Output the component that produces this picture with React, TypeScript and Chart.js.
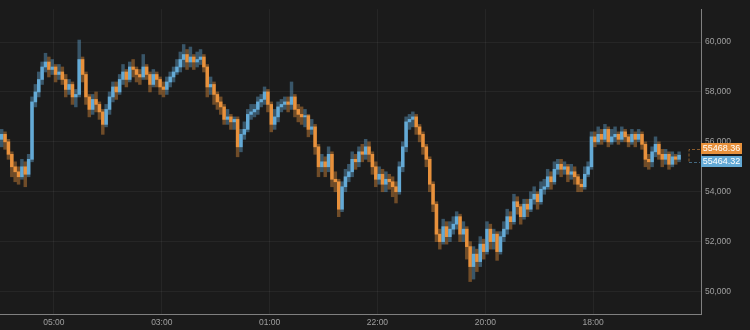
import React, { useEffect, useRef } from 'react';
import { Chart, registerables } from 'chart.js';
Chart.register(...registerables);

const OPEN = [56100,56300,56000,55500,55000,54800,54600,55000,54700,55300,
57600,58000,58500,59000,59200,58900,59000,58700,58800,58500,
58100,58300,57800,57900,59300,58700,57800,57300,57700,57500,
57200,56700,57300,57800,58200,58000,58500,58800,58500,59000,
58900,58700,58600,59000,58700,58300,58700,58500,58200,58100,
58400,58600,58800,59000,59300,59500,59200,59400,59200,59300,
59400,59000,58200,58300,57900,57600,57400,56900,57000,56800,
56900,55800,56300,56500,57100,57200,57300,57600,57700,58000,
57500,56700,57000,57400,57500,57600,57500,57800,57300,57100,
57000,57050,56500,56600,55800,55000,55200,55000,55500,54500,
54400,53300,54200,54600,54800,55300,55200,55600,55500,55800,
55500,55000,54500,54700,54300,54500,54400,54200,54000,55000,
55800,56800,56900,57000,56600,56300,55800,55300,54300,53500,
52300,52000,52600,52200,52500,52700,53000,52300,52500,51800,
51000,51500,51200,51900,51600,52500,52000,52300,51600,52200,
52500,53000,52800,53600,53400,53000,53500,53300,53700,53900,
53600,54100,54200,54600,54400,54900,55100,54900,55000,54700,
54800,54600,54300,54200,54700,55000,56200,56000,56300,56100,
56500,56000,56200,56300,56100,56400,56200,56000,56300,56100,
56300,55900,55300,55200,55600,55900,55500,55300,55500,55100,
55400,55300];

const CLOSE = [56300,56000,55500,55000,54800,54600,55000,54700,55300,57600,
58000,58500,59000,59200,58900,59000,58700,58800,58500,58100,
58300,57800,57900,59300,58700,57800,57300,57700,57500,57200,
56700,57300,57800,58200,58000,58500,58800,58500,59000,58900,
58700,58600,59000,58700,58300,58700,58500,58200,58100,58400,
58600,58800,59000,59300,59500,59200,59400,59200,59300,59400,
59000,58200,58300,57900,57600,57400,56900,57000,56800,56900,
55800,56300,56500,57100,57200,57300,57600,57700,58000,57500,
56700,57000,57400,57500,57600,57500,57800,57300,57100,57000,
57050,56500,56600,55800,55000,55200,55000,55500,54500,54400,
53300,54200,54600,54800,55300,55200,55600,55500,55800,55500,
55000,54500,54700,54300,54500,54400,54200,54000,55000,55800,
56800,56900,57000,56600,56300,55800,55300,54300,53500,52300,
52000,52600,52200,52500,52700,53000,52300,52500,51800,51000,
51500,51200,51900,51600,52500,52000,52300,51600,52200,52500,
53000,52800,53600,53400,53000,53500,53300,53700,53900,53600,
54100,54200,54600,54400,54900,55100,54900,55000,54700,54800,
54600,54300,54200,54700,55000,56200,56000,56300,56100,56500,
56000,56200,56300,56100,56400,56200,56000,56300,56100,56300,
55900,55300,55200,55600,55900,55500,55300,55500,55100,55400,
55300,55464];

const HIGH = [56500,56400,56100,55600,55200,55000,55300,55200,55500,57800,
58300,58800,59200,59550,59400,59300,59100,59100,59000,58700,
58500,58400,58100,60080,59400,58800,57900,57900,58000,57600,
57300,57500,58000,58400,58400,58700,59100,58900,59200,59300,
59000,58900,59500,59100,58800,58900,58800,58600,58400,58600,
58800,59000,59300,59600,59900,59700,59800,59500,59600,59700,
59500,59100,58600,58400,58000,57800,57500,57300,57100,57000,
57000,56500,56800,57300,57500,57500,57800,57900,58200,58100,
57600,57300,57600,57700,57800,57800,58400,57900,57500,57400,
57300,57100,56900,56700,55900,55500,55400,55800,55600,54800,
54500,54400,54900,55100,55600,55500,55800,55900,56100,56000,
55600,55200,55000,54900,54800,54700,54600,54400,55200,56000,
57000,57100,57200,57100,56700,56400,55900,55400,54400,53600,
52500,52900,52800,52800,53000,53200,53100,52800,52600,52000,
51800,51700,52200,52100,52800,52700,52500,52400,52400,52800,
53300,53200,53900,53800,53500,53700,53700,54000,54200,54000,
54400,54500,54900,54800,55200,55300,55300,55200,55100,55100,
55000,54700,54500,55000,55200,56400,56400,56600,56500,56700,
56600,56500,56600,56400,56600,56500,56300,56500,56400,56500,
56400,56000,55500,55800,56200,56000,55700,55700,55600,55600,
55500,55600];

const LOW = [55800,55700,55300,54600,54400,54300,54500,54200,54600,55200,
57400,57800,58300,58800,58600,58700,58400,58500,58300,57800,
57900,57500,57400,57800,58400,57500,57000,57100,57200,56900,
56300,56600,57100,57600,57700,57900,58300,58200,58400,58600,
58400,58300,58500,58500,58000,58200,58200,57900,57800,57900,
58200,58400,58700,58800,59000,58900,59000,58900,59000,59100,
58800,57800,57900,57500,57300,57100,56700,56700,56500,56500,
55400,55600,56100,56400,56900,57000,57100,57400,57500,57200,
56400,56500,56800,57200,57300,57200,57300,57000,56800,56700,
56600,56200,56300,55500,54600,54800,54600,54800,54200,54000,
53000,53200,54000,54400,54600,54900,55000,55200,55300,55200,
54700,54200,54300,54000,54000,54100,53800,53550,53900,54800,
55600,56500,56600,56300,56000,55500,55000,54000,53200,52000,
51700,51900,51900,52000,52300,52500,52000,52000,51300,50400,
50500,50800,51000,51300,51500,51700,51700,51250,51500,52000,
52300,52500,52700,53100,52700,52900,53000,53200,53500,53300,
53500,53900,54100,54100,54300,54700,54600,54700,54400,54500,
54300,54000,54000,54100,54600,54900,55800,55900,55900,56000,
55800,55900,56000,55900,56000,56000,55800,55900,55800,56000,
55700,55000,54900,55000,55400,55300,55000,55100,54900,55000,
55100,55200];

const TICK_POS = [15.5, 47.5, 79.5, 111.5, 143.5, 175.5];
const TICK_LABELS = ['05:00', '03:00', '01:00', '22:00', '20:00', '18:00'];
const Y_TICKS = [50000, 52000, 54000, 56000, 58000, 60000];
const ASK_PRICE = 55468.36;
const BID_PRICE = 55464.32;

const BG = '#1b1b1b';
const UP = '#64aad6';
const DOWN = '#e8913c';
const UP_WICK = 'rgba(100,170,214,0.42)';
const DOWN_WICK = 'rgba(232,145,60,0.42)';
const FONT = "'Liberation Sans', Arial, Helvetica, sans-serif";
const FONT_SIZE = 8.5;

export default function App() {
  const ref = useRef<HTMLCanvasElement | null>(null);

  useEffect(() => {
    document.body.style.margin = '0';
    document.body.style.background = BG;
    const canvas = ref.current;
    if (!canvas) return;

    const bodies = OPEN.map((o, i) => ({ x: i, y: [o, CLOSE[i]] }));
    const wicks = OPEN.map((_, i) => ({ x: i, y: [LOW[i], HIGH[i]] }));
    const isUp = OPEN.map((o, i) => CLOSE[i] >= o);

    const bgPlugin = {
      id: 'bg',
      beforeDraw(chart: any) {
        const ctx = chart.ctx;
        ctx.save();
        ctx.fillStyle = BG;
        ctx.fillRect(0, 0, chart.width, chart.height);
        ctx.restore();
      },
    };

    const pricePlugin = {
      id: 'priceTags',
      afterDraw(chart: any) {
        const ctx = chart.ctx;
        const ys = chart.scales.y;
        const area = chart.chartArea;
        const py = ys.getPixelForValue((ASK_PRICE + BID_PRICE) / 2);
        const x0 = area.right;
        const w = 41;
        ctx.save();
        ctx.setLineDash([3, 2]);
        ctx.lineWidth = 1;
        ctx.strokeStyle = 'rgba(232,145,60,0.55)';
        ctx.beginPath();
        ctx.moveTo(x0 - 1, Math.round(py - 6.5) + 0.5);
        ctx.lineTo(x0 - 12, Math.round(py - 6.5) + 0.5);
        ctx.lineTo(x0 - 12, Math.round(py + 6.5) + 0.5);
        ctx.stroke();
        ctx.strokeStyle = 'rgba(100,170,214,0.55)';
        ctx.beginPath();
        ctx.moveTo(x0 - 12, Math.round(py + 6.5) + 0.5);
        ctx.lineTo(x0 - 1, Math.round(py + 6.5) + 0.5);
        ctx.stroke();
        ctx.setLineDash([]);
        ctx.fillStyle = DOWN;
        ctx.fillRect(x0, Math.round(py - 12), w, 11);
        ctx.fillStyle = UP;
        ctx.fillRect(x0, Math.round(py + 1), w, 11);
        ctx.fillStyle = '#ffffff';
        ctx.font = `${FONT_SIZE + 0.5}px ${FONT}`;
        ctx.textAlign = 'center';
        ctx.textBaseline = 'middle';
        ctx.fillText(ASK_PRICE.toFixed(2), x0 + w / 2, Math.round(py - 12) + 6);
        ctx.fillText(BID_PRICE.toFixed(2), x0 + w / 2, Math.round(py + 1) + 6);
        ctx.restore();
      },
    };

    const chart = new Chart(canvas, {
      type: 'bar',
      data: {
        datasets: [
          {
            label: 'body',
            data: bodies as any,
            backgroundColor: isUp.map((u) => (u ? UP : DOWN)),
            borderWidth: 0,
            grouped: false,
            barThickness: 2.8,
            order: 0,
          } as any,
          {
            label: 'wick',
            data: wicks as any,
            backgroundColor: isUp.map((u) => (u ? UP_WICK : DOWN_WICK)),
            borderWidth: 0,
            grouped: false,
            barThickness: 2.8,
            order: 1,
          } as any,
        ],
      },
      options: {
        animation: false,
        responsive: false,
        maintainAspectRatio: false,
        layout: { padding: 0 },
        plugins: { legend: { display: false }, tooltip: { enabled: false } },
        scales: {
          x: {
            type: 'linear',
            position: 'bottom',
            min: -0.5,
            max: 207.5,
            offset: false,
            grid: { offset: false, color: 'rgba(255,255,255,0.05)', drawTicks: false },
            border: { display: true, color: '#808080', width: 1 },
            afterBuildTicks: (s: any) => {
              s.ticks = TICK_POS.map((v) => ({ value: v }));
            },
            afterFit: (s: any) => {
              s.height = 16;
            },
            ticks: {
              autoSkip: false,
              maxRotation: 0,
              padding: 4,
              color: '#a0a0a0',
              font: { family: FONT, size: FONT_SIZE },
              callback: (v: any) => {
                const k = TICK_POS.indexOf(Number(v));
                return k >= 0 ? TICK_LABELS[k] : '';
              },
            },
          } as any,
          y: {
            type: 'linear',
            position: 'right',
            min: 49100,
            max: 61320,
            grid: { color: 'rgba(255,255,255,0.05)', drawTicks: false },
            border: { display: true, color: '#808080', width: 1 },
            afterBuildTicks: (s: any) => {
              s.ticks = Y_TICKS.map((v) => ({ value: v }));
            },
            afterFit: (s: any) => {
              s.width = 49;
            },
            ticks: {
              padding: 4,
              color: '#a0a0a0',
              font: { family: FONT, size: FONT_SIZE },
              callback: (v: any) => Number(v).toLocaleString('en-US'),
            },
          } as any,
        },
      },
      plugins: [bgPlugin, pricePlugin],
    });

    return () => chart.destroy();
  }, []);

  return (
    <div style={{ position: 'fixed', left: 0, top: 0, width: 750, height: 330, background: BG }}>
      <canvas ref={ref} width={750} height={330} style={{ display: 'block' }} />
    </div>
  );
}
